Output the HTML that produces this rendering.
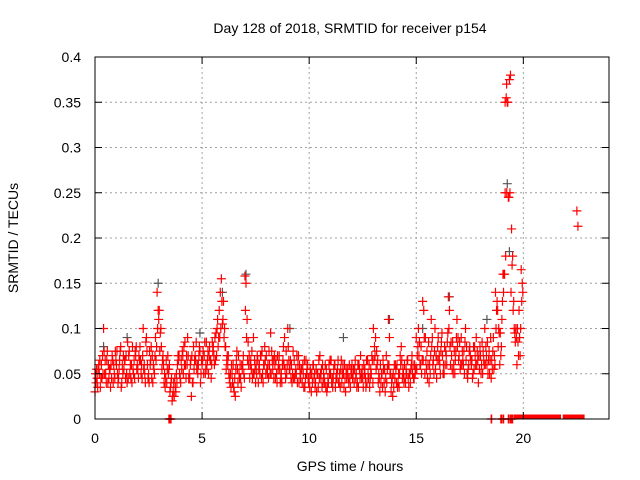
<!DOCTYPE html>
<html><head><meta charset="utf-8"><style>
body{margin:0;background:#fff;}
svg{display:block;font-family:"Liberation Sans",sans-serif;}
</style></head><body>
<svg id="chart" width="640" height="480" viewBox="0 0 640 480">
<rect width="640" height="480" fill="#fff"/>
<g id="grid"></g>
<g id="marks"></g>
<g id="axes"></g>
<text x="350" y="33" font-size="14" text-anchor="middle">Day 128 of 2018, SRMTID for receiver p154</text>
<text x="350" y="471" font-size="14" text-anchor="middle">GPS time / hours</text>
<text transform="translate(18,238) rotate(-90)" font-size="14" text-anchor="middle">SRMTID / TECUs</text>
</svg>
<script>
const xTicks=[0,5,10,15,20];
const xTickLabels=["0","5","10","15","20"];
const yTicks=[0,0.05,0.1,0.15,0.2,0.25,0.3,0.35,0.4];
const yTickLabels=["0","0.05","0.1","0.15","0.2","0.25","0.3","0.35","0.4"];
const seriesAStart=0.0;
const seriesA=[.03,.045,.05,.06,.1,.05,.04,.055,.07,.05,
.06,.045,.08,.05,.065,.04,.075,.06,.05,.07,
.055,.08,.045,.06,.09,.05,.065,.04,.07,.14,
.12,.08,.06,.045,.07,.03,.02,.025,.05,.065,
.04,.07,.085,.06,.05,.025,.08,.065,.05,.075,
.06,.07,.085,.05,.065,.075,.09,.1,.12,.155,
.13,.08,.06,.04,.05,.03,.065,.07,.045,.06,
.158,.11,.07,.055,.09,.04,.065,.05,.075,.06,
.07,.045,.095,.055,.06,.04,.07,.05,.08,.045,
.1,.055,.04,.065,.05,.07,.045,.06,.035,.055,
.045,.03,.06,.04,.05,.07,.035,.045,.055,.04,
.05,.035,.06,.045,.04,.065,.05,.03,.055,.045,
.06,.04,.05,.035,.07,.045,.055,.04,.06,.05,
.1,.09,.065,.03,.05,.04,.07,.11,.05,.025,
.045,.06,.035,.08,.05,.04,.065,.05,.07,.045,
.09,.1,.06,.13,.05,.075,.04,.11,.065,.055,
.08,.06,.095,.05,.07,.135,.06,.085,.05,.11,
.07,.09,.06,.1,.045,.08,.065,.055,.09,.04,
.07,.05,.1,.06,.075,.045,.09,.14,.12,.06,
.11,.16,.355,.245,.38,.18,.095,.06,.12,.165];
const seriesBStart=0.05;
const seriesB=[.04,.055,.035,.07,.05,.065,.045,.06,.04,.075,
.05,.065,.04,.055,.07,.045,.06,.08,.045,.055,
.07,.05,.1,.04,.06,.075,.045,.055,.065,.12,
.095,.065,.05,.04,.055,.04,.03,.035,.06,.05,
.055,.08,.045,.07,.06,.04,.065,.055,.07,.05,
.075,.05,.065,.08,.06,.07,.095,.08,.14,.105,
.1,.065,.05,.035,.06,.025,.055,.045,.06,.05,
.15,.085,.06,.045,.065,.05,.055,.07,.04,.065,
.05,.06,.075,.045,.065,.055,.04,.06,.09,.05,
.065,.045,.075,.05,.04,.06,.055,.035,.065,.045,
.055,.04,.05,.03,.065,.045,.04,.06,.035,.05,
.04,.055,.045,.065,.035,.05,.06,.045,.04,.055,
.05,.065,.04,.055,.045,.06,.035,.05,.045,.065,
.08,.075,.05,.04,.065,.03,.055,.09,.04,.035,
.055,.04,.07,.045,.06,.05,.035,.055,.06,.05,
.07,.085,.05,.12,.065,.06,.05,.09,.075,.045,
.065,.075,.05,.06,.085,.12,.07,.06,.075,.09,
.055,.075,.05,.08,.06,.065,.05,.07,.075,.055,
.06,.065,.08,.05,.065,.055,.07,.12,.1,.07,
.16,.25,.35,.375,.21,.13,.1,.085,.07,.15];
const seriesCStart=0.025;
const seriesC=[.05,.035,.065,.045,.075,.04,.06,.035,.065,.045,
.075,.055,.035,.07,.045,.085,.05,.04,.065,.08,
.045,.065,.07,.05,.075,.04,.08,.06,.09,.1,
.075,.055,.04,.065,.05,.035,.025,.045,.04,.07,
.065,.05,.06,.09,.045,.07,.055,.085,.06,.04,
.065,.085,.055,.07,.045,.08,.065,.11,.09,.13,
.09,.055,.07,.05,.04,.045,.075,.05,.035,.07,
.12,.065,.045,.075,.05,.06,.04,.07,.05,.08,
.055,.075,.05,.065,.045,.07,.055,.04,.06,.075,
.08,.065,.05,.045,.07,.04,.055,.05,.045,.06,
.035,.05,.045,.055,.035,.05,.06,.04,.03,.06,
.065,.045,.035,.055,.05,.04,.035,.055,.045,.035,
.045,.055,.035,.06,.05,.035,.045,.065,.035,.07,
.065,.055,.04,.06,.035,.055,.04,.06,.03,.05,
.06,.035,.05,.065,.04,.055,.045,.04,.05,.06,
.055,.07,.08,.065,.09,.045,.06,.08,.05,.07,
.09,.05,.07,.08,.06,.1,.085,.05,.065,.08,
.085,.06,.075,.065,.055,.07,.045,.08,.06,.07,
.05,.075,.06,.085,.05,.065,.055,.1,.08,.095,
.13,.16,.25,.245,.14,.12,.085,.1,.09,.13];
const seriesDStart=0.075;
const seriesD=[.055,.06,.045,.05,.065,.075,.055,.045,.06,.065,
.04,.075,.06,.065,.05,.07,.045,.055,.075,.06,
.065,.06,.055,.085,.045,.06,.07,.05,.08,.11,
.1,.07,.035,.055,.06,.045,.04,.03,.07,.045,
.075,.06,.07,.045,.065,.04,.07,.06,.08,.065,
.05,.06,.075,.065,.085,.06,.07,.09,.1,.11,
.08,.07,.045,.06,.035,.055,.04,.06,.055,.045,
.09,.06,.065,.05,.055,.07,.06,.045,.06,.05,
.06,.05,.065,.07,.05,.06,.045,.065,.055,.06,
.055,.06,.045,.055,.06,.05,.04,.065,.05,.04,
.05,.06,.035,.05,.045,.055,.05,.035,.045,.065,
.045,.06,.05,.04,.055,.06,.045,.05,.06,.05,
.055,.045,.06,.045,.055,.05,.065,.045,.055,.04,
.07,.06,.045,.05,.055,.045,.06,.05,.045,.06,
.04,.05,.06,.055,.045,.065,.05,.06,.045,.055,
.08,.06,.065,.09,.055,.085,.07,.06,.1,.065,
.07,.085,.06,.075,.095,.08,.055,.075,.09,.065,
.06,.065,.085,.05,.075,.06,.08,.06,.065,.08,
.085,.06,.07,.065,.09,.075,.06,.13,.095,.08,
.14,.18,.35,.25,.17,.1,.09,.07,.1,.14];
const extraTimes=[22.5,22.55,19.15,19.22];
const extraValues=[0.23,0.213,0.35,0.37];
const zeroTimes=[3.45,3.48,3.5,3.53,3.55,18.5,18.52,18.95,18.98,19.05,19.08,19.3,19.33,19.4,19.45,19.5];
const zeroRunStart=[19.75,22.05];
const zeroRunEnd=[21.55,22.65];
const darkTimes=[0.4,1.5,2.95,4.9,5.95,7.05,9.1,11.6,13.75,15.3,16.55,18.3,19.25,19.35];
const darkValues=[0.08,0.09,0.15,0.095,0.14,0.16,0.1,0.09,0.11,0.1,0.135,0.11,0.26,0.185];

const X0=95,X1=609,Y0=419,Y1=57,XMAX=24,YMAX=0.4;
function sx(t){return X0+(X1-X0)*t/XMAX;}
function sy(v){return Y0-(Y0-Y1)*v/YMAX;}
const NS="http://www.w3.org/2000/svg";
function mk(tag,attrs,parent){const e=document.createElementNS(NS,tag);for(const k in attrs)e.setAttribute(k,attrs[k]);parent.appendChild(e);return e;}
const grid=document.getElementById('grid'),axes=document.getElementById('axes'),marks=document.getElementById('marks');
xTicks.forEach((t,i)=>{
  if(t>0){const g=mk('line',{x1:sx(t),x2:sx(t),y1:Y0,y2:Y1,stroke:'#a0a0a0','stroke-dasharray':'2,3'},grid);
  
  }
  mk('line',{x1:sx(t),x2:sx(t),y1:Y0,y2:Y0-7,stroke:'#000'},axes);
  mk('line',{x1:sx(t),x2:sx(t),y1:Y1,y2:Y1+7,stroke:'#000'},axes);
  const l=mk('text',{x:sx(t),y:Y0+24,'font-size':14,'text-anchor':'middle'},axes);
  l.textContent=xTickLabels[i];
  
  
});
yTicks.forEach((v,i)=>{
  if(v>0&&v<YMAX){const g=mk('line',{x1:X0,x2:X1,y1:sy(v),y2:sy(v),stroke:'#a0a0a0','stroke-dasharray':'2,3'},grid);
  
  }
  mk('line',{x1:X0,x2:X0+7,y1:sy(v),y2:sy(v),stroke:'#000'},axes);
  mk('line',{x1:X1,x2:X1-7,y1:sy(v),y2:sy(v),stroke:'#000'},axes);
  const l=mk('text',{x:X0-14,y:sy(v)+5,'font-size':14,'text-anchor':'end'},axes);
  l.textContent=yTickLabels[i];
  
  
});
const frame=mk('rect',{x:X0,y:Y1,width:X1-X0,height:Y0-Y1,fill:'none',stroke:'#000'},axes);


function plus(t,v,color){
  const x=sx(t),y=sy(v);
  const p=mk('path',{d:`M${x-4.5},${y}H${x+4.5}M${x},${y-4.5}V${y+4.5}`,stroke:color,'stroke-width':1.2,fill:'none'},marks);
  
  
}
darkTimes.forEach((t,i)=>plus(t,darkValues[i],'#555'));
seriesA.forEach((v,i)=>plus(seriesAStart+i*0.1,v,'#ff0000'));
seriesB.forEach((v,i)=>plus(seriesBStart+i*0.1,v,'#ff0000'));
seriesC.forEach((v,i)=>plus(seriesCStart+i*0.1,v,'#ff0000'));
seriesD.forEach((v,i)=>plus(seriesDStart+i*0.1,v,'#ff0000'));
extraTimes.forEach((t,i)=>plus(t,extraValues[i],'#ff0000'));
zeroTimes.forEach(t=>plus(t,0,'#ff0000'));
zeroRunStart.forEach((s,i)=>{
  const r=mk('rect',{x:sx(s)-4.5,y:Y0-4.5,width:sx(zeroRunEnd[i])-sx(s)+9,height:5,fill:'#ff0000'},marks);
  
  
});
</script>
</body></html>
